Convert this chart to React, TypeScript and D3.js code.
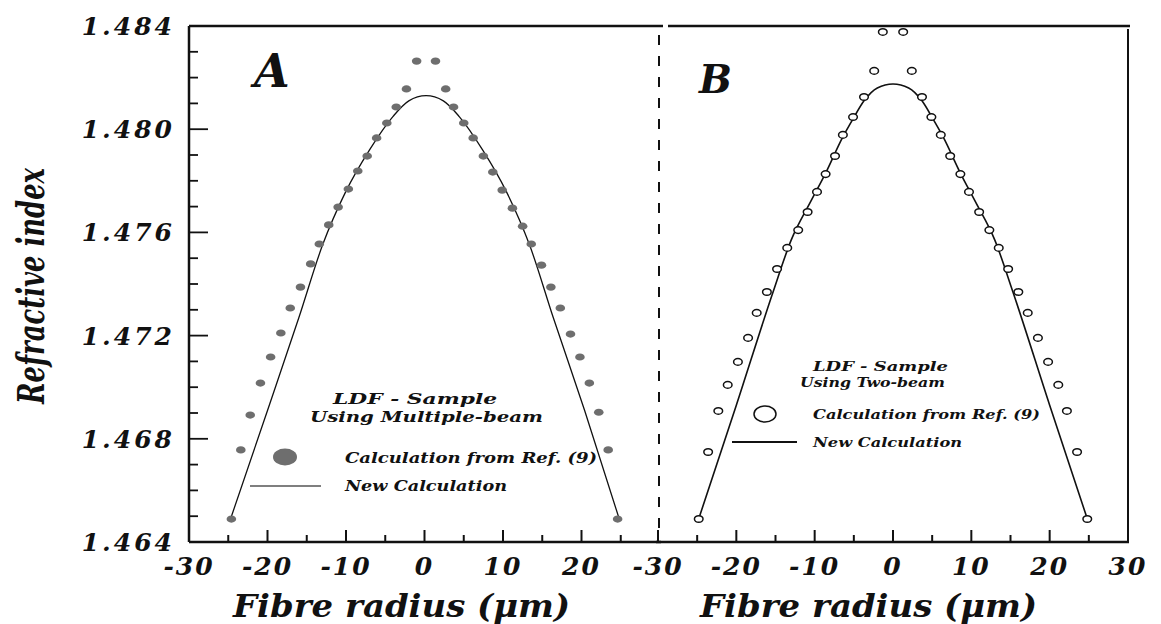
import React from "react";
import * as d3 from "d3";

// ---------- data ----------
const yTickValues = [1.464, 1.468, 1.472, 1.476, 1.48, 1.484];
const yTickLabels = ["1.464", "1.468", "1.472", "1.476", "1.480", "1.484"];
const xTicksA = [-30, -20, -10, 0, 10, 20];
const xTickLabelsA = ["-30", "-20", "-10", "0", "10", "20"];
const xTicksB = [-30, -20, -10, 0, 10, 20, 30];
const xTickLabelsB = ["-30", "-20", "-10", "0", "10", "20", "30"];

// Panel A – Calculation from Ref. (9) (multiple-beam)
const refAx = [
  -24.6, -23.4, -22.2, -20.9, -19.6, -18.3, -17.1, -15.8, -14.5, -13.4, -12.2, -11.0, -9.7, -8.5, -7.3, -6.1, -4.8, -3.6, -2.3, -1.0,
  1.4, 2.7, 3.7, 5.0, 6.2, 7.5, 8.7, 9.9, 11.2, 12.5, 13.6, 14.9, 16.1, 17.3, 18.6, 19.8, 21.0, 22.2, 23.4, 24.6,
];
const refAn = [
  1.46489, 1.46757, 1.46892, 1.47016, 1.47117, 1.4721, 1.47307, 1.47388, 1.47478, 1.47555, 1.47629, 1.47698, 1.47768, 1.47838, 1.47896, 1.47966, 1.48024, 1.48086, 1.48156, 1.48264,
  1.48264, 1.48156, 1.48086, 1.48024, 1.47966, 1.47896, 1.47834, 1.47764, 1.47694, 1.47624, 1.47555, 1.47473, 1.47388, 1.47307, 1.47206, 1.47117, 1.47016, 1.46903, 1.46757, 1.46489,
];
// Panel A – New calculation
const newAx = [-24.7, -20, -16, -13, -10, -7, -4, -2, 0.2, 2.4, 4.4, 7.4, 10.4, 13.4, 16.4, 20.4, 24.8];
const newAn = [1.4649, 1.4691, 1.4727, 1.4755, 1.4776, 1.4792, 1.4805, 1.4811, 1.4813, 1.4811, 1.4805, 1.4792, 1.4776, 1.4755, 1.4727, 1.4691, 1.4649];

// Panel B – Calculation from Ref. (9) (two-beam)
const refBx = [
  -24.8, -23.6, -22.3, -21.1, -19.8, -18.5, -17.4, -16.1, -14.8, -13.5, -12.1, -10.9, -9.7, -8.6, -7.4, -6.4, -5.1, -3.7, -2.4, -1.3,
  1.3, 2.4, 3.7, 4.9, 6.1, 7.3, 8.6, 9.7, 11.0, 12.3, 13.5, 14.7, 16.0, 17.2, 18.5, 19.8, 21.1, 22.2, 23.5, 24.8,
];
const refBn = [
  1.46489, 1.46749, 1.46908, 1.47009, 1.47098, 1.47191, 1.47288, 1.47369, 1.47458, 1.4754, 1.47609, 1.47679, 1.47757, 1.47826, 1.47896, 1.47978, 1.48047, 1.48125, 1.48226, 1.48377,
  1.48377, 1.48226, 1.48125, 1.48047, 1.47978, 1.47896, 1.47826, 1.47757, 1.47679, 1.47609, 1.4754, 1.47458, 1.47369, 1.47288, 1.47191, 1.47098, 1.47009, 1.46908, 1.46749, 1.46489,
];
// Panel B – New calculation
const newBx = [-24.8, -20, -15.3, -13, -10.5, -8.6, -6.4, -5.1, -3.7, -2, 0, 2, 3.7, 5.1, 6.4, 8.6, 10.5, 13, 15.3, 20, 24.8];
const newBn = [1.4649, 1.4693, 1.4737, 1.4757, 1.4772, 1.4783, 1.4797, 1.4804, 1.4811, 1.4816, 1.48175, 1.4816, 1.4811, 1.4804, 1.4797, 1.4783, 1.4772, 1.4757, 1.4737, 1.4693, 1.4649];

// ---------- layout ----------
const W = 1161;
const H = 624;
const TOP = 26;
const BOTTOM = 542;
const FONT = "'DejaVu Serif', 'Liberation Serif', serif";

const y = d3.scaleLinear().domain([1.464, 1.484]).range([BOTTOM, TOP]);
const xA = d3.scaleLinear().domain([-30, 30]).range([189, 660]);
const xB = d3.scaleLinear().domain([-30, 30]).range([658, 1128]);

const minorY = d3.range(1.465, 1.4841, 0.001).filter((v) => Math.abs((v - 1.464) / 0.004 - Math.round((v - 1.464) / 0.004)) > 0.01);
const minorX = [-25, -15, -5, 5, 15, 25];

const txt = {
  fontFamily: FONT,
  fontWeight: "bold" as const,
  fontStyle: "italic" as const,
  fill: "#111",
};

function curvePath(xs: number[], ns: number[], xs_: d3.ScaleLinear<number, number>) {
  const pts = xs.map((v, i) => [v, ns[i]] as [number, number]);
  return d3
    .line<[number, number]>()
    .x((d) => xs_(d[0]))
    .y((d) => y(d[1]))
    .curve(d3.curveMonotoneX)(pts) as string;
}

function XAxis({ sc, ticks, labels, x0, x1 }: any) {
  return (
    <g>
      <line x1={x0} x2={x1} y1={BOTTOM} y2={BOTTOM} stroke="#111" strokeWidth={2.5} />
      {ticks.map((t: number) => (
        <line key={"M" + t} x1={sc(t)} x2={sc(t)} y1={BOTTOM} y2={BOTTOM - 12} stroke="#111" strokeWidth={2} />
      ))}
      {minorX.map((t) => (
        <line key={"m" + t} x1={sc(t)} x2={sc(t)} y1={BOTTOM} y2={BOTTOM - 7} stroke="#111" strokeWidth={2} />
      ))}
      {ticks.map((t: number, i: number) => (
        <text key={"l" + t} x={sc(t)} y={575} textAnchor="middle" fontSize={25} letterSpacing={2} style={txt}>
          {labels[i]}
        </text>
      ))}
    </g>
  );
}

export default function App() {
  const pathA = curvePath(newAx, newAn, xA);
  const pathB = curvePath(newBx, newBn, xB);
  return (
    <svg width={W} height={H} style={{ position: "absolute", left: 0, top: 0, background: "#fff" }}>
      <rect x={0} y={0} width={W} height={H} fill="#fff" />

      {/* frame */}
      <line x1={189} x2={663} y1={TOP} y2={TOP} stroke="#111" strokeWidth={2.5} />
      <line x1={668} x2={1130} y1={TOP} y2={TOP} stroke="#111" strokeWidth={2.5} />
      <line x1={189} x2={189} y1={TOP} y2={BOTTOM} stroke="#111" strokeWidth={2.5} />
      <line x1={1128} x2={1128} y1={TOP + 3} y2={BOTTOM} stroke="#111" strokeWidth={2} />
      <line x1={659} x2={659} y1={35} y2={BOTTOM - 4} stroke="#111" strokeWidth={2} strokeDasharray="10 11" />

      {/* y axis ticks */}
      {yTickValues.slice(1, -1).map((t) => (
        <line key={"ym" + t} x1={189} x2={208} y1={y(t)} y2={y(t)} stroke="#111" strokeWidth={1.8} />
      ))}
      {minorY.map((t) => (
        <line key={"yn" + t} x1={189} x2={198} y1={y(t)} y2={y(t)} stroke="#111" strokeWidth={1.8} />
      ))}
      {yTickValues.map((t, i) => (
        <text key={"yl" + t} x={175} y={y(t) + 9} textAnchor="end" fontSize={25} letterSpacing={3} style={txt}>
          {yTickLabels[i]}
        </text>
      ))}

      <XAxis sc={xA} ticks={xTicksA} labels={xTickLabelsA} x0={189} x1={661} />
      <XAxis sc={xB} ticks={xTicksB} labels={xTickLabelsB} x0={656} x1={1129} />

      {/* axis titles */}
      <text transform={`translate(44,286) rotate(-90)`} textAnchor="middle" fontSize={38} textLength={236} lengthAdjust="spacingAndGlyphs" style={txt}>
        Refractive index
      </text>
      <text x={233} y={617} fontSize={31} textLength={337} lengthAdjust="spacingAndGlyphs" style={txt}>
        Fibre radius (μm)
      </text>
      <text x={700} y={617} fontSize={31} textLength={337} lengthAdjust="spacingAndGlyphs" style={txt}>
        Fibre radius (μm)
      </text>

      {/* panel labels */}
      <text x={254} y={87} fontSize={46} style={txt}>A</text>
      <text x={699} y={93} fontSize={39} style={txt}>B</text>

      {/* panel A data */}
      <path d={pathA} fill="none" stroke="#111" strokeWidth={1.3} />
      {refAx.map((v, i) => (
        <ellipse key={"a" + i} cx={xA(v)} cy={y(refAn[i])} rx={4.8} ry={3.6} fill="#6e6e6e" />
      ))}

      {/* panel B data */}
      <path d={pathB} fill="none" stroke="#111" strokeWidth={1.6} />
      {refBx.map((v, i) => (
        <ellipse key={"b" + i} cx={xB(v)} cy={y(refBn[i])} rx={4.3} ry={3.3} fill="#fff" stroke="#111" strokeWidth={1.5} />
      ))}

      {/* legend A */}
      <text x={333} y={404} fontSize={15} textLength={164} lengthAdjust="spacingAndGlyphs" style={txt}>LDF - Sample</text>
      <text x={310} y={422} fontSize={15} textLength={233} lengthAdjust="spacingAndGlyphs" style={txt}>Using Multiple-beam</text>
      <ellipse cx={285} cy={457} rx={12} ry={8.5} fill="#6e6e6e" />
      <text x={345} y={463} fontSize={15} textLength={252} lengthAdjust="spacingAndGlyphs" style={txt}>Calculation from Ref. (9)</text>
      <line x1={250} x2={321} y1={486} y2={486} stroke="#555" strokeWidth={1.3} />
      <text x={345} y={491} fontSize={15} textLength={162} lengthAdjust="spacingAndGlyphs" style={txt}>New Calculation</text>

      {/* legend B */}
      <text x={813} y={371} fontSize={13} textLength={135} lengthAdjust="spacingAndGlyphs" style={txt}>LDF - Sample</text>
      <text x={800} y={387} fontSize={13} textLength={145} lengthAdjust="spacingAndGlyphs" style={txt}>Using Two-beam</text>
      <ellipse cx={765} cy={414} rx={11} ry={8} fill="#fff" stroke="#111" strokeWidth={1.5} />
      <text x={813} y={419} fontSize={13.5} textLength={227} lengthAdjust="spacingAndGlyphs" style={txt}>Calculation from Ref. (9)</text>
      <line x1={732} x2={797} y1={442} y2={442} stroke="#111" strokeWidth={2} />
      <text x={813} y={447} fontSize={13.5} textLength={149} lengthAdjust="spacingAndGlyphs" style={txt}>New Calculation</text>
    </svg>
  );
}
